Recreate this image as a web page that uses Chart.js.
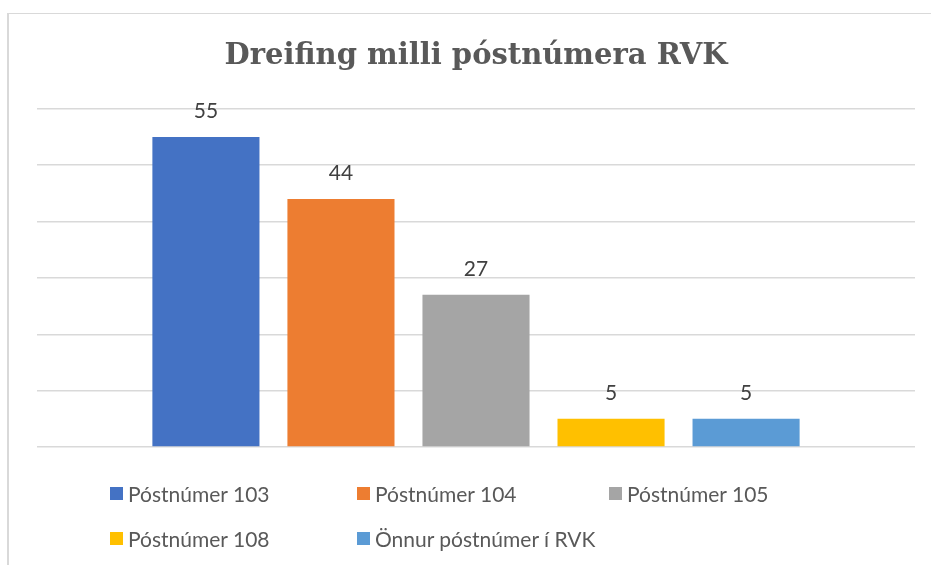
<!DOCTYPE html>
<html>
<head>
<meta charset="utf-8">
<script src="https://cdn.jsdelivr.net/npm/chart.js@4"></script>
<style>
  body { margin: 0; background: #fff; }
  #wrap { position: relative; width: 931px; height: 565px; }
  #frame { position: absolute; left: 7px; top: 13px; right: 0; bottom: 0;
           border-top: 1px solid #d9d9d9; border-left: 2px solid #d9d9d9; }
  #legend { position: absolute; left: 110px; top: 481px; width: 780px;
            font-family: Lato, sans-serif; font-size: 21px; color: #595959; }
  #legend .item { position: absolute; display: flex; align-items: center; white-space: nowrap; }
  #legend .box { width: 13px; height: 13px; margin-right: 5px; }
</style>
</head>
<body>
<div id="wrap">
  <div id="frame"></div>
  <canvas id="postChart" width="931" height="565"></canvas>
  <div id="legend"></div>
</div>
<script>
var seriesNames = ['Póstnúmer 103', 'Póstnúmer 104', 'Póstnúmer 105', 'Póstnúmer 108', 'Önnur póstnúmer í RVK']
var seriesValues = [55, 44, 27, 5, 5]
var seriesColors = ['#4472C4', '#ED7D31', '#A5A5A5', '#FFC000', '#5B9BD5']

// value labels above each bar
var barLabels = {
  id: 'barLabels',
  afterDatasetsDraw: function(chart) {
    var ctx = chart.ctx
    ctx.save()
    ctx.font = '21px Lato, sans-serif'
    ctx.fillStyle = '#404040'
    ctx.textAlign = 'center'
    ctx.textBaseline = 'bottom'
    chart.data.datasets.forEach(function(ds, i) {
      chart.getDatasetMeta(i).data.forEach(function(bar, j) {
        ctx.fillText(ds.data[j], bar.x, bar.y - 15)
      })
    })
    ctx.restore()
  }
}

var datasets = seriesNames.map(function(name, i) {
  return {
    label: name,
    data: [seriesValues[i]],
    backgroundColor: seriesColors[i],
    categoryPercentage: 0.769,
    barPercentage: 0.793
  }
})

var chart = new Chart(document.getElementById('postChart').getContext('2d'), {
  type: 'bar',
  data: { labels: [''], datasets: datasets },
  options: {
    responsive: false,
    animation: false,
    layout: { padding: { left: 37, right: 16, bottom: 118 } },
    plugins: {
      legend: { display: false },
      tooltip: { enabled: false },
      title: {
        display: true,
        text: 'Dreifing milli póstnúmera RVK',
        color: '#595959',
        font: { family: 'DejaVu Serif', size: 29, weight: 'bold' },
        padding: { top: 39, bottom: 35 }
      }
    },
    scales: {
      x: { display: false },
      y: {
        min: 0,
        max: 60,
        ticks: { display: false, stepSize: 10 },
        grid: { color: '#d9d9d9', lineWidth: 1.5, drawTicks: false },
        border: { display: false }
      }
    }
  },
  plugins: [barLabels]
})

// html legend laid out in a 3-column grid like the original
var legendEl = document.getElementById('legend')
chart.options.plugins.legend.labels.generateLabels(chart).forEach(function(item, i) {
  var div = document.createElement('div')
  div.className = 'item'
  div.style.left = [0, 247, 499][i % 3] + 'px'
  div.style.top = (Math.floor(i / 3) * 45) + 'px'
  var box = document.createElement('span')
  box.className = 'box'
  box.style.background = item.fillStyle
  div.appendChild(box)
  div.appendChild(document.createTextNode(item.text))
  legendEl.appendChild(div)
})
</script>
</body>
</html>
